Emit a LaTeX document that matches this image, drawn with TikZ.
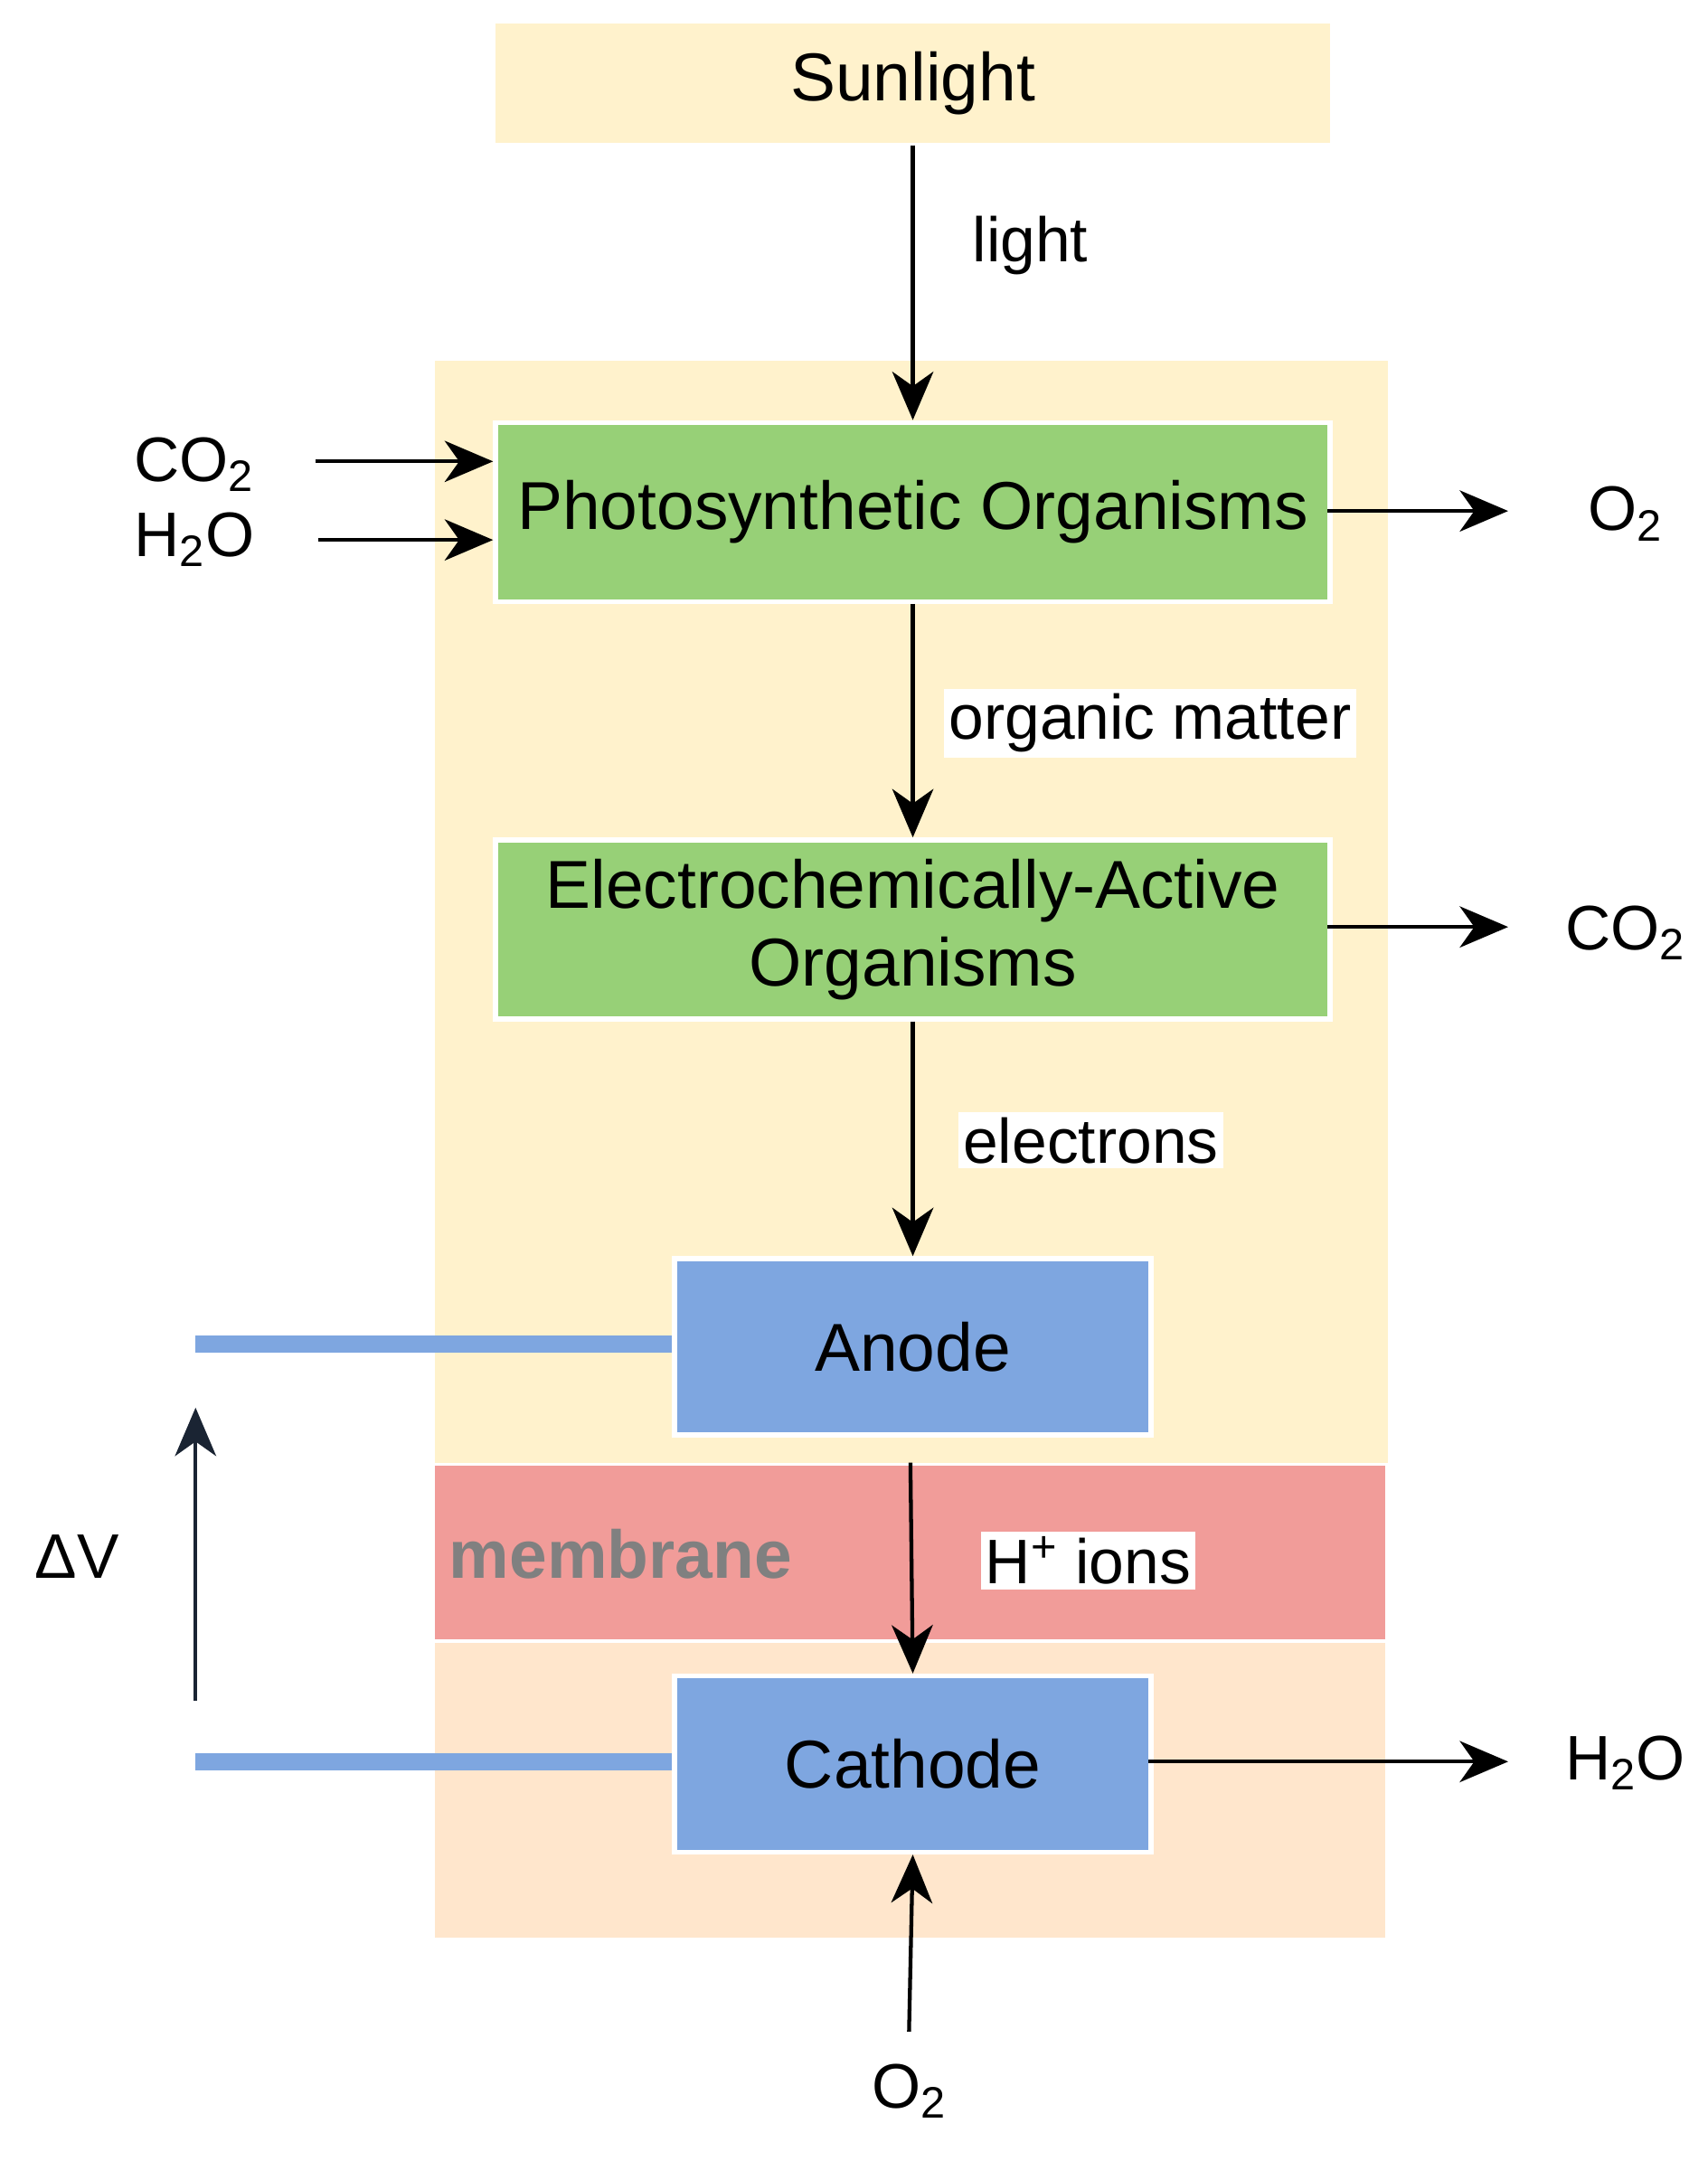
\documentclass[tikz,border=0pt]{standalone}
\usepackage{fontspec}
\setmainfont{Liberation Sans}
\usetikzlibrary{arrows.meta}
\definecolor{sunc}{HTML}{FFF2CC}
\definecolor{bgc}{HTML}{FFF2CC}
\definecolor{memc}{HTML}{F19C99}
\definecolor{catc}{HTML}{FFE6CC}
\definecolor{grn}{HTML}{97D077}
\definecolor{blu}{HTML}{7EA6E0}
\definecolor{dark}{HTML}{1A2433}
\begin{document}
\begin{tikzpicture}[x=0.02cm,y=-0.02cm,
  box/.style={draw=white,line width=2pt,anchor=north west,inner sep=0pt,font=\fontsize{28}{34}\selectfont,align=center},
  lab/.style={fill=white,inner sep=2pt,font=\fontsize{26}{30}\selectfont},
  arr/.style={line width=1.6pt,-{Stealth[length=20pt,width=17pt,inset=6pt]}}]
\useasboundingbox (0,0) rectangle (1240,1569);
\fill[bgc] (316,262) rectangle (1008,1062);
\fill[memc] (316,1064) rectangle (1006,1190);
\fill[catc] (316,1193) rectangle (1006,1407);
\node[font=\bfseries\fontsize{28}{34}\selectfont,text=gray,anchor=west] (mem) at (320,1128) {membrane};
\node[box,fill=sunc,draw=none,minimum width=606*0.02cm,minimum height=87*0.02cm] (sun) at (358,15) {Sunlight};
\node[box,fill=grn,minimum width=606*0.02cm,minimum height=130*0.02cm] (pho) at (358,305) {Photosynthetic Organisms};
\node[box,fill=grn,minimum width=606*0.02cm,minimum height=130*0.02cm] (ele) at (358,608) {Electrochemically-Active\\[-2pt]Organisms};
\node[box,fill=blu,minimum width=346*0.02cm,minimum height=128*0.02cm] (ano) at (488,912) {Anode};
\node[box,fill=blu,minimum width=346*0.02cm,minimum height=128*0.02cm] (cat) at (488,1215) {Cathode};
\draw[arr] (sun.south) -- (pho.north);
\node[lab] (l1) at (748,178) {light};
\draw[arr] (pho.south) -- (ele.north);
\node[lab] (l2) at (835,525) {organic matter};
\draw[arr] (ele.south) -- (ano.north);
\node[lab] (l3) at (792,828) {electrons};
\draw[arr] (661,1062) -- (cat.north);
\node[lab] (l4) at (790,1133) {H\textsuperscript{+} ions};
\node[lab] (o2b) at (660,1518) {O\textsubscript{2}};
\draw[arr] (660,1475) -- (cat.south);
\node[lab] (ci) at (141,337) {CO\textsubscript{2}};
\node[lab] (hi) at (141,392) {H\textsubscript{2}O};
\draw[arr] (229,335) -- (358,335);
\draw[arr] (231,392) -- (358,392);
\node[lab] (o2) at (1180,373) {O\textsubscript{2}};
\draw[arr] (964,371) -- (1095,371);
\node[lab] (co2) at (1180,677) {CO\textsubscript{2}};
\draw[arr] (964,673) -- (1095,673);
\node[lab] (h2o) at (1180,1280) {H\textsubscript{2}O};
\draw[arr] (834,1279) -- (1095,1279);
\draw[blu,line width=7pt] (142,976) -- (488,976);
\draw[blu,line width=7pt] (142,1279) -- (488,1279);
\draw[dark,line width=1.6pt,-{Stealth[length=20pt,width=17pt,inset=6pt]}] (142,1235) -- (142,1022);
\node[lab] (dv) at (56,1130) {ΔV};
\end{tikzpicture}
\end{document}
